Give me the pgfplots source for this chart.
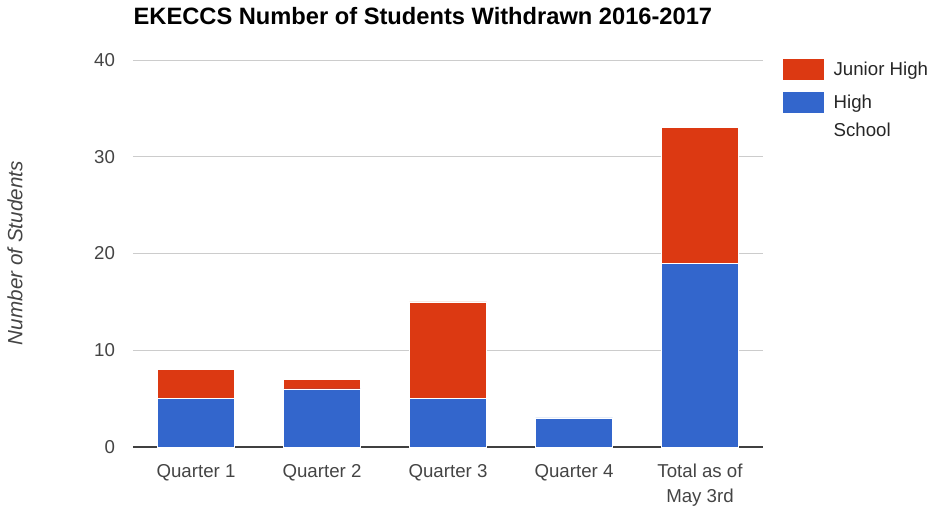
\documentclass[border=0pt]{standalone}
\usepackage{fontspec}
\setmainfont{Liberation Sans}
\usepackage{pgfplots}
\pgfplotsset{compat=1.18}
\definecolor{jhred}{HTML}{DC3912}
\definecolor{hsblue}{HTML}{3366CC}
\definecolor{ticktxt}{HTML}{444444}
\definecolor{gridc}{HTML}{CCCCCC}
\begin{document}
\begin{tikzpicture}
\useasboundingbox (0,0) rectangle (698.25pt,384pt);
\begin{axis}[
    at={(99.75pt,48.75pt)}, anchor=south west,
    scale only axis,
    width=472.5pt, height=290.25pt,
    ybar stacked,
    bar width=57.75pt,
    xmin=-0.5, xmax=4.5,
    ymin=0, ymax=40,
    xtick=data,
    xticklabels={Quarter 1, Quarter 2, Quarter 3, Quarter 4, {Total as of\\May 3rd}},
    xticklabel style={align=center, font=\fontsize{14}{18.75}\selectfont,
        text=ticktxt, yshift=-9.5pt},
    ytick={0,10,20,30,40},
    yticklabel style={font=\fontsize{14}{17}\selectfont, text=ticktxt, xshift=-10pt},
    /pgf/number format/assume math mode=true,
    ymajorgrids, grid style={gridc, line width=0.75pt},
    major tick length=0pt,
    axis x line*=bottom, axis y line*=left,
    x axis line style={draw=black!75, line width=1pt},
    y axis line style={draw=none},
    separate axis lines,
    title={EKECCS Number of Students Withdrawn 2016-2017},
    title style={at={(axis description cs:0,1)}, anchor=west, yshift=27pt, xshift=-3pt,
        font=\bfseries\fontsize{17.75}{20}\selectfont},
    ylabel={Number of Students},
    ylabel style={at={(axis description cs:-0.1873,0.501)}, anchor=center,
        font=\itshape\fontsize{15.5}{18}\selectfont, text=ticktxt},
    reverse legend,
    legend style={at={(axis description cs:1.0317,1.0026)}, anchor=north west,
        draw=none, fill=none, inner sep=0pt, outer sep=0pt,
        font=\fontsize{14}{21}\selectfont, text=black!85,
        row sep=9pt, column sep=7.5pt,
        nodes={inner sep=0pt, anchor=base west, align=left}},
    legend cell align=left,
]
\addplot[fill=hsblue, draw=white, line width=0.5pt,
    legend image code/.code={\fill[hsblue] (0pt,-3pt) rectangle (30pt,12pt);}] coordinates {
    (0,5) (1,6) (2,5) (3,3) (4,19)};
\addplot[fill=jhred, draw=white, line width=0.5pt,
    legend image code/.code={\fill[jhred] (0pt,-3pt) rectangle (30pt,12pt);}] coordinates {
    (0,3) (1,1) (2,10) (3,0) (4,14)};
\legend{{\vtop{\baselineskip=21pt\hbox{High}\hbox{School}}}, {Junior High}}
\end{axis}
\end{tikzpicture}
\end{document}
